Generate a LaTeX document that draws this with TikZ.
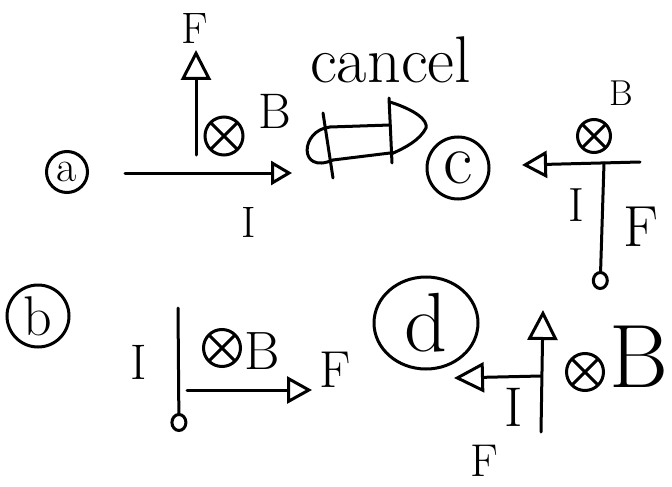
\documentclass[tikz,border=0pt]{standalone}
\usetikzlibrary{arrows.meta,shapes.geometric}
\begin{document}
\begin{tikzpicture}[x=1pt,y=-1pt,
  stroke/.style={line width=3pt, line cap=round, line join=round},
  tipbig/.style={-{Triangle[open,length=30pt,width=30pt,line width=3pt]}},
  tipmid/.style={-{Triangle[open,length=25pt,width=27pt,line width=3pt]}},
  tipsmall/.style={-{Triangle[open,length=21pt,width=24pt,line width=3pt]}},
  tipdot/.style={-{Circle[open,length=19pt,width=17pt,line width=3pt]}},
  lbl/.style={font=\fontsize{#1}{#1}\selectfont, inner sep=0pt},
  lbl/.default=44pt,
  crs/.style={circle, draw, line width=3pt, minimum size=#1, inner sep=0pt,
    path picture={\draw[line width=3pt]
      (path picture bounding box.north west) -- (path picture bounding box.south east)
      (path picture bounding box.north east) -- (path picture bounding box.south west);}},
  crs/.default=36pt,
  tag/.style={circle, draw, line width=3pt, inner sep=0pt, minimum size=#1},
]
\useasboundingbox (0,0) rectangle (672,487);

% ---------------- (a)
\node[tag=41pt, font=\fontsize{44}{44}\selectfont] (ta) at (67,172) {a};
\coordinate (aIs) at (125,173);
\coordinate (aIe) at (292,173);
\draw[stroke,tipsmall] (aIs) -- (aIe);
\node[lbl] (aI) at (249,222) {I};
\coordinate (aFs) at (196,155);
\coordinate (aFe) at (196,50);
\draw[stroke,tipbig] (aFs) -- (aFe);
\node[lbl] (aF) at (195,29) {F};
\node[crs=38pt] (aB) at (224,136) {};
\node[lbl=50pt] (aBl) at (275,111) {B};

% ---------------- cancel
\node[lbl=66pt, anchor=base west] (cancel) at (310,82) {cancel};
\draw[stroke] (323,113) -- (333,178);
\draw[stroke] (330,127) .. controls (300,130) and (298,175) .. (333,160);
\draw[stroke] (330,127) -- (390,125);
\draw[stroke] (333,160) -- (390,153);
\draw[stroke] (389,98) -- (392,163);
\draw[stroke] (390,102) .. controls (415,110) and (428,120) .. (426,128)
  .. controls (420,140) and (405,148) .. (391,154);

% ---------------- (c)
\node[tag=62pt, font=\fontsize{72}{72}\selectfont] (tc) at (458,168) {c};
\coordinate (cIs) at (640,162);
\coordinate (cIe) at (522,165);
\draw[stroke,tipmid] (cIs) -- (cIe);
\coordinate (cFs) at (604,163);
\coordinate (cFe) at (600,290);
\draw[stroke,tipdot] (cFs) -- (cFe);
\node[crs=33pt] (cB) at (594,136) {};
\node[lbl=36pt] (cBl) at (621,93) {B};
\node[lbl=48pt] (cI) at (576,205) {I};
\node[lbl=58pt] (cF) at (641,227) {F};

% ---------------- (b)
\node[tag=62pt, font=\fontsize{56}{56}\selectfont] (tb) at (38,316) {b};
\node[lbl=50pt] (bI) at (139,362) {I};
\coordinate (bIs) at (178,308);
\coordinate (bIe) at (179,432);
\draw[stroke,tipdot] (bIs) -- (bIe);
\node[crs=37pt] (bB) at (222,348) {};
\node[lbl=54pt] (bBl) at (262,351) {B};
\coordinate (bFs) at (187,390);
\coordinate (bFe) at (312,390);
\draw[stroke,tipmid] (bFs) -- (bFe);
\node[lbl=52pt] (bF) at (335,370) {F};

% ---------------- (d)
\node[draw, ellipse, line width=3pt, minimum width=104pt, minimum height=92pt,
  inner sep=0pt, font=\fontsize{84}{84}\selectfont] (td) at (426,323) {d};
\coordinate (dFs) at (541,432);
\coordinate (dFe) at (543,310);
\draw[stroke,tipbig] (dFs) -- (dFe);
\coordinate (dIs) at (541,376);
\coordinate (dIe) at (454,378);
\draw[stroke,tipbig] (dIs) -- (dIe);
\node[lbl=56pt] (dI) at (514,407) {I};
\node[lbl=46pt] (dF) at (484,461) {F};
\node[crs=37pt] (dB) at (585,372) {};
\node[lbl=90pt] (dBl) at (639,357) {B};
\end{tikzpicture}
\end{document}
